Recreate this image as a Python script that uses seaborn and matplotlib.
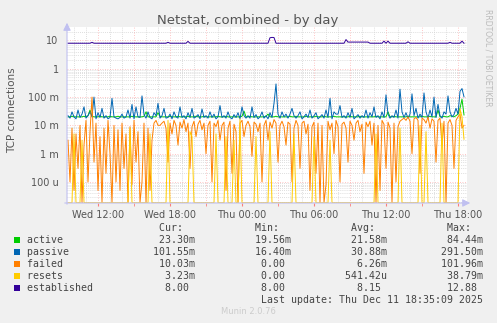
import numpy as np
import pandas as pd
import matplotlib
matplotlib.use("Agg")
import matplotlib.pyplot as plt
import seaborn as sns
from matplotlib.patches import Rectangle

# ---------------- data (10-minute samples, Wed 09:30 -> Thu 18:30) ----------------
START_HOUR = 9.5          # hours since Wed 00:00
STEP_MIN = 10

# values in milli-connections (m)
active = [
    20, 20, 21, 20, 20, 20,  20, 20, 21, 20, 22, 35,  21, 20, 20, 20, 21, 20,
    20, 20, 20, 21, 20, 20,  20, 21, 20, 20, 20, 20,  20, 20, 21, 20, 20, 20,
    20, 20, 21, 30, 20, 20,  20, 20, 20, 28, 21, 20,  20, 20, 20, 21, 20, 20,
    20, 21, 20, 20, 20, 20,  21, 20, 20, 20, 21, 20,  20, 20, 21, 20, 20, 20,
    20, 20, 20, 21, 20, 20,  20, 21, 20, 20, 20, 20,  20, 20, 20, 21, 32, 20,
    20, 21, 20, 20, 20, 20,  20, 20, 20, 21, 25, 20,  20, 20, 21, 20, 20, 20,
    20, 20, 20, 21, 20, 20,  21, 20, 20, 20, 20, 21,  20, 20, 20, 20, 21, 20,
    20, 20, 21, 20, 20, 20,  20, 21, 20, 20, 20, 20,  20, 20, 20, 21, 20, 20,
    20, 20, 21, 20, 20, 20,  20, 20, 20, 20, 21, 20,  20, 20, 20, 20, 30, 20,
    20, 21, 20, 20, 20, 20,  20, 20, 21, 20, 20, 20,  20, 20, 20, 21, 20, 20,
    20, 21, 20, 20, 20, 35,  20, 20, 21, 20, 20, 22,  21, 20, 22, 25, 40, 84,
    23.3,
]

passive = [
    22, 18, 30, 20, 17, 35,  19, 25, 45, 18, 22, 30,  20, 100, 17, 28, 19, 40,
    18, 22, 17, 19, 90, 20,  18, 17, 19, 25, 18, 20,  35, 18, 55, 17, 45, 20,
    19, 110, 24, 18, 30, 19,  17, 28, 22, 60, 18, 22,  40, 18, 19, 25, 17, 30,
    20, 18, 45, 19, 22, 17,  28, 19, 40, 18, 20, 24,  17, 38, 19, 22, 18, 30,
    19, 25, 17, 20, 50, 19,  22, 18, 30, 19, 17, 24,  19, 28, 17, 45, 22, 18,
    22, 18, 45, 19, 24, 17,  20, 30, 18, 22, 17, 28,  19, 60, 291, 25, 18, 30,
    20, 25, 18, 25, 40, 22,  18, 22, 30, 17, 20, 25,  19, 35, 18, 22, 28, 17,
    20, 24, 18, 35, 19, 90,  17, 30, 25, 25, 50, 19,  22, 18, 28, 19, 40, 17,
    20, 24, 18, 22, 19, 35,  18, 28, 20, 45, 19, 22,  17, 30, 19, 120, 25, 18,
    22, 19, 35, 18, 190, 30,  19, 28, 18, 25, 130, 22,  40, 18, 25, 19, 140, 30,
    18, 35, 20, 100, 19, 55,  22, 18, 30, 25, 110, 30,  20, 24, 40, 25, 160, 200,
    101.55,
]

failed = [
    3, 0.1, 8, 0.05, 5, 0.3,  10, 0, 2, 15, 0.1, 6,  100, 0.5, 12, 0.05, 4, 0,
    8, 0.2, 15, 1, 0, 10,  0.1, 7, 0.05, 12, 0.3, 5,  0, 9, 0.08, 15, 0.5, 6,
    0, 0.1, 12, 0, 8, 0.05,  3, 12, 15, 10, 10, 12,  14, 8, 0.5, 12, 5, 15,
    10, 2, 13, 8, 16, 6,  12, 0.3, 9, 14, 4, 11,  15, 7, 12, 1, 10, 14,
    0.1, 12, 9, 15, 3, 10,  13, 0.05, 8, 14, 0.2, 11,  6, 0, 12, 15, 4, 10,
    14, 9, 0.8, 13, 11, 6,  12, 0.1, 10, 15, 3, 13,  8, 16, 12, 0.5, 10, 14,
    9, 2, 13, 11, 0.1, 8,  15, 10, 0.3, 12, 14, 5,  11, 0.05, 9, 13, 0.2, 12,
    0, 10, 0, 0.08, 14, 7,  12, 1, 15, 9, 0.1, 11,  13, 8, 0.5, 14, 10, 3,
    12, 15, 6, 11, 0.2, 13,  9, 14, 2, 12, 0, 10,  0.05, 15, 11, 0.3, 13, 8,
    0, 12, 0.1, 9, 14, 16,  18, 15, 20, 14, 1, 17,  19, 15, 0.2, 18, 16, 12,
    20, 8, 17, 14, 0.5, 15,  18, 2, 14, 0, 12, 16,  10, 0.3, 15, 20, 25, 8,
    10.03,
]

resets = [
    0, 0, 0, 5, 0, 0,  0, 3, 0, 0, 0, 0,  0, 0, 0, 0, 0, 0,
    0, 0, 0, 0, 0, 0,  0, 0, 0, 0, 0, 0,  0, 8, 0, 0, 0, 0,
    0, 0, 0, 0, 0, 5,  0, 0, 0, 0, 0, 0,  0, 0, 15, 0, 0, 0,
    0, 0, 0, 0, 0, 0,  0, 6, 4, 0, 0, 0,  0, 0, 0, 0, 0, 0,
    0, 0, 5, 0, 0, 0,  0, 4, 0, 0, 0, 3,  0, 0, 17, 0, 0, 0,
    0, 0, 0, 0, 4, 0,  0, 0, 0, 0, 0, 6,  0, 0, 0, 0, 0, 0,
    0, 0, 0, 0, 0, 5,  0, 0, 0, 0, 0, 0,  0, 0, 0, 4, 0, 0,
    0, 0, 0, 0, 0, 3,  0, 0, 0, 0, 0, 0,  0, 0, 0, 0, 0, 0,
    0, 0, 0, 0, 0, 0,  0, 0, 0, 0, 5, 0,  0, 0, 0, 0, 0, 0,
    0, 0, 0, 0, 8, 0,  0, 0, 0, 0, 0, 0,  0, 0, 10, 0, 0, 6,
    0, 0, 0, 0, 0, 0,  0, 12, 0, 0, 0, 0,  0, 0, 0, 0, 38, 20,
    3.23,
]

# established connections (units)
established = [
    8, 8, 8, 8, 8, 8,  8, 8, 8, 8, 8, 8,  8.6, 8, 8, 8, 8, 8,
    8, 8, 8, 8, 8, 8,  8, 8, 8, 8, 8, 8,  8, 8, 8, 8, 8, 8,
    8, 8, 8, 8, 8, 8,  8, 8, 8, 8, 8, 8,  8, 8, 8.6, 8, 8, 8,
    8, 8, 8, 8, 8, 8,  9.3, 8, 8, 8, 8, 8,  8, 8, 8, 8, 8, 8,
    8, 8, 8, 8, 8, 8,  8, 8, 8, 8, 8, 8,  8, 8, 8, 8, 8, 8,
    8, 8, 8, 8, 8, 8,  8, 8, 8, 8, 8, 12.5,  12.88, 12.7, 8, 8, 8, 8,
    8, 8, 8, 8, 8, 8,  8, 8, 8, 8, 8, 8,  8, 8, 8, 8, 8, 8,
    8, 8, 8, 8, 8, 8,  8, 8, 8, 8, 8, 8,  8, 10.8, 8.8, 8.8, 8.8, 8.8,
    8.8, 8.8, 8.8, 8.8, 8.8, 8.8,  8.8, 8, 8, 8, 8, 8,  8, 8, 9.5, 8, 9.5, 8,
    8, 8, 8, 8, 8, 8,  8, 8, 9, 8, 8, 8,  8, 8, 8, 8, 8, 8,
    8, 8, 8, 8, 8, 8,  8, 8, 8, 8, 8, 8.6,  8, 8, 8, 8, 8, 9.5,
    8,
]

series_names = ["active", "passive", "failed", "resets", "established"]
series_colors = ["#00CC00", "#0066B3", "#FF8000", "#FFCC00", "#330099"]

x_tick_hours = [12, 18, 24, 30, 36, 42]
x_tick_labels = ["Wed 12:00", "Wed 18:00", "Thu 00:00", "Thu 06:00", "Thu 12:00", "Thu 18:00"]
y_tick_values = [1e-4, 1e-3, 1e-2, 1e-1, 1, 10]
y_tick_labels = ["100 u", "1 m", "10 m", "100 m", "1", "10"]

legend_cur = ["23.30m", "101.55m", "10.03m", "3.23m", "8.00 "]
legend_min = ["19.56m", "16.40m", "0.00 ", "0.00 ", "8.00 "]
legend_avg = ["21.58m", "30.88m", "6.26m", "541.42u", "8.15 "]
legend_max = ["84.44m", "291.50m", "101.96m", "38.79m", "12.88 "]

# ---------------- build frame ----------------
YMIN, YMAX = 1.8e-5, 30.0
XMIN, XMAX = 12 - 31 / 12, 12 + 369 / 12

n = len(active)
t = START_HOUR + np.arange(n) * STEP_MIN / 60.0
frames = []
for name, vals, scale in [("active", active, 1e-3), ("passive", passive, 1e-3),
                          ("failed", failed, 1e-3), ("resets", resets, 1e-3),
                          ("established", established, 1.0)]:
    v = np.asarray(vals, dtype=float) * scale
    # rrdtool clips values to the graph's lower bound
    v = np.maximum(v, YMIN * 1.02)
    frames.append(pd.DataFrame({"t": t, "v": v, "series": name}))
df = pd.concat(frames, ignore_index=True)

# ---------------- figure ----------------
W, H = 497, 323
fig = plt.figure(figsize=(W / 100, H / 100), dpi=100, facecolor="#F0F0F0")
ax = fig.add_axes([67 / W, 1 - 203 / H, 400 / W, 176 / H])
ax.set_facecolor("white")
for s in ax.spines.values():
    s.set_visible(False)

ax.set_xlim(XMIN, XMAX)
ax.set_yscale("log")
ax.set_ylim(YMIN, YMAX)

# grid
minor_col = "#D4D4D4"
major_col = (1, 0.45, 0.45, 0.55)
for d in range(-5, 2):
    for k in range(2, 10):
        yv = k * 10.0 ** d
        if YMIN < yv < YMAX:
            ax.axhline(yv, color=minor_col, lw=0.6, ls=(0, (1, 1.5)), zorder=0)
for d in range(-4, 2):
    ax.axhline(10.0 ** d, color=major_col, lw=0.6, ls=(0, (1, 2)), zorder=0.5)
for h in range(10, 43):
    if h % 3 == 0:
        ax.axvline(h, color=major_col, lw=0.6, ls=(0, (1, 2)), zorder=0.5)
    else:
        ax.axvline(h, color=minor_col, lw=0.6, ls=(0, (1, 1.5)), zorder=0)

sns.lineplot(data=df, x="t", y="v", hue="series", hue_order=series_names,
             palette=dict(zip(series_names, series_colors)), estimator=None,
             sort=False, linewidth=0.7, legend=False, ax=ax, zorder=3)
ax.set_yscale("log")
ax.set_ylim(YMIN, YMAX)
ax.set_xlim(XMIN, XMAX)

ax.set_xlabel("")
ax.set_ylabel("")
ax.set_xticks(x_tick_hours)
ax.set_xticklabels(x_tick_labels)
ax.set_xticks([15, 21, 27, 33, 39], minor=True)
ax.tick_params(axis="x", which="both", length=2, color=(1, 0.3, 0.3, 0.7),
               labelsize=7, labelcolor="#555555", pad=3)
ax.set_yticks(y_tick_values)
ax.set_yticklabels(y_tick_labels)
ax.yaxis.set_minor_locator(matplotlib.ticker.NullLocator())
ax.tick_params(axis="y", which="both", length=0, labelsize=7, labelcolor="#555555", pad=6)

# axis arrows
arrow_col = "#C0C0F0"
fig.add_artist(matplotlib.patches.FancyArrowPatch((62 / W, 1 - 203 / H), (473 / W, 1 - 203 / H),
               transform=fig.transFigure, arrowstyle="-|>,head_length=3,head_width=1.5",
               color=arrow_col, lw=0.8, mutation_scale=1.5, zorder=5))
fig.add_artist(matplotlib.patches.FancyArrowPatch((67 / W, 1 - 207 / H), (67 / W, 1 - 20 / H),
               transform=fig.transFigure, arrowstyle="-|>,head_length=3,head_width=1.5",
               color=arrow_col, lw=0.8, mutation_scale=1.5, zorder=5))

# title and labels
fig.text(247.5 / W, 1 - 24 / H, "Netstat, combined - by day", ha="center", va="baseline",
         fontsize=9.5, color="#555555")
fig.text(12 / W, 1 - 110 / H, "TCP connections", rotation=90, ha="center", va="center",
         fontsize=7.5, color="#555555")
fig.text(488 / W, 1 - 58 / H, "RRDTOOL / TOBI OETIKER", rotation=270, ha="center", va="center",
         fontsize=5.5, color="#BBBBBB")
fig.text(248 / W, 1 - 312 / H, "Munin 2.0.76", ha="center", va="center",
         fontsize=6, color="#CCCCCC")

# legend table (monospace)
mono = dict(family="DejaVu Sans Mono", fontsize=7.15, color="#444444")
x0 = 26.7
def row_text(label, cur, mn, avg, mx):
    s = label
    s = s.ljust(28 - len(cur)) + cur
    s = s.ljust(44 - len(mn)) + mn
    s = s.ljust(60 - len(avg)) + avg
    s = s.ljust(76 - len(mx)) + mx
    return s

header = (" " * 22 + "Cur:").ljust(38) + "Min:"
header = header.ljust(54) + "Avg:"
header = header.ljust(70) + "Max:"
fig.text(x0 / W, 1 - 228 / H, header, ha="left", va="center", **mono)

row_y = [240, 252, 264, 276, 288]
for i, name in enumerate(series_names):
    yy = row_y[i]
    fig.add_artist(Rectangle((14 / W, 1 - (yy + 3) / H), 6 / W, 6 / H,
                             transform=fig.transFigure, color=series_colors[i], lw=0))
    fig.text(x0 / W, 1 - yy / H,
             row_text(name, legend_cur[i], legend_min[i], legend_avg[i], legend_max[i]),
             ha="left", va="center", **mono)

last = "Last update: Thu Dec 11 18:35:09 2025"
fig.text(x0 / W, 1 - 300 / H, " " * (76 - len(last)) + last, ha="left", va="center", **mono)

fig.savefig("out.png", dpi=100, facecolor=fig.get_facecolor())
